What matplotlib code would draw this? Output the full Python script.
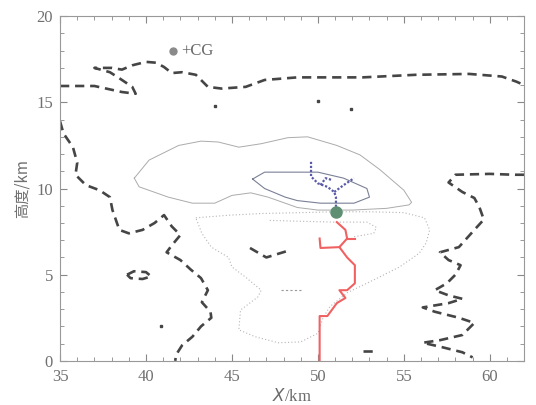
import matplotlib
matplotlib.use("Agg")
import matplotlib.pyplot as plt
from matplotlib.ticker import MultipleLocator

# 粗虚线(温度/云边界等值线)
top_dash_x = [35, 37, 38.6, 39.4, 39.2, 38.45, 37.9, 37.0, 38.0, 38.6, 39.2, 40.0, 40.6, 41.05, 41.5,
              42.1, 42.9, 43.6, 44.4, 45.8, 46.9, 48.8, 52.6, 55.7, 58.8, 60.7, 61.55, 62]
top_dash_y = [15.95, 15.95, 15.6, 15.5, 15.9, 16.4, 16.75, 17.0, 17.0, 16.9, 17.15, 17.35, 17.3, 17.05, 16.7,
              16.75, 16.6, 15.9, 15.8, 15.9, 16.3, 16.45, 16.45, 16.6, 16.65, 16.5, 16.2, 16.0]

left_dash_x = [35, 35.2, 35.75, 36.0, 35.9, 36.5, 37.3, 37.9, 38.0, 38.05, 38.45, 39.0, 39.8, 40.5, 41.05,
               41.5, 42.0, 41.5, 41.2, 42.0, 42.6, 43.2, 43.6, 43.25, 43.75, 43.8, 43.2, 42.7, 42.1, 41.75, 41.7]
left_dash_y = [13.9, 13.2, 12.4, 11.5, 10.8, 10.2, 9.9, 9.5, 9.0, 8.75, 7.6, 7.4, 7.6, 8.0, 8.46,
               7.8, 7.3, 6.7, 6.3, 5.85, 5.3, 4.8, 4.1, 3.4, 2.85, 2.5, 2.0, 1.4, 0.9, 0.35, 0]

right_dash_x = [62, 61.4, 60.0, 58.0, 57.6, 58.4, 59.1, 59.4, 59.65, 59.1, 58.2, 57.1, 57.6, 58.3, 58.0,
                57.5, 56.8, 57.6, 58.4, 57.6, 56.1, 56.8, 58.2, 59.1, 58.4, 57.1, 56.1, 57.2, 58.4, 59.0]
right_dash_y = [10.8, 10.8, 10.85, 10.8, 10.35, 9.8, 9.45, 8.9, 8.2, 7.6, 6.6, 6.3, 5.85, 5.55, 5.0,
                4.5, 4.1, 3.8, 3.6, 3.35, 3.1, 2.85, 2.5, 2.2, 1.5, 1.2, 1.05, 0.8, 0.5, 0.2]

mid_dash_x = [46.05, 47.0, 48.3]
mid_dash_y = [6.55, 6.0, 6.4]
loop_dash_x = [38.9, 39.3, 40.0, 40.3, 39.8, 39.1, 38.9]
loop_dash_y = [5.0, 5.2, 5.15, 4.9, 4.75, 4.8, 5.0]
low_dash_x = [52.6, 53.2]
low_dash_y = [0.58, 0.58]
spot_x = [44.0, 50.0, 51.9, 40.9]
spot_y = [14.8, 15.1, 14.6, 2.0]

# 细实线等值线
outer_x = [39.32, 40.18, 41.9, 43.2, 44.2, 45.4, 46.7, 48.25, 49.4, 51.1, 52.45, 53.6, 55.0, 55.45, 55.3,
           54.0, 52.0, 50.0, 48.8, 47.1, 46.1, 45.0, 44.0, 42.7, 41.3, 39.6, 39.32]
outer_y = [10.6, 11.65, 12.5, 12.75, 12.7, 12.4, 12.6, 12.95, 13.0, 12.5, 11.95, 11.1, 9.9, 9.2, 9.05,
           8.85, 8.75, 8.75, 8.9, 9.5, 9.75, 9.6, 9.15, 9.15, 9.5, 10.1, 10.6]
inner_x = [46.2, 46.9, 48.8, 50.0, 51.5, 52.85, 53.0, 52.1, 50.15, 48.8, 48.1, 46.9, 46.2]
inner_y = [10.55, 10.95, 10.95, 10.95, 10.6, 10.0, 9.5, 9.15, 9.15, 9.3, 9.5, 10.0, 10.55]

# 点线等值线
dot1_x = [42.9, 44.8, 46.7, 49.0, 51.0, 53.0, 55.0, 56.2, 56.5, 56.3, 55.9, 54.75, 53.25, 51.7, 50.7,
          50.3, 50.0, 49.0, 47.7, 46.35, 45.4, 45.5, 46.5, 46.7, 45.8, 45.0, 44.8, 43.8, 43.25, 42.9]
dot1_y = [8.3, 8.45, 8.55, 8.6, 8.65, 8.65, 8.6, 8.3, 7.6, 6.85, 6.25, 5.45, 4.7, 3.95, 3.15,
          2.5, 1.6, 1.1, 1.05, 1.4, 1.8, 2.95, 3.7, 4.1, 4.85, 5.45, 6.0, 6.6, 7.4, 8.3]
dot2_x = [47.2, 49.0, 51.0, 52.85, 53.4, 53.25, 52.1]
dot2_y = [8.15, 8.1, 8.05, 8.05, 7.75, 7.4, 7.2]
dot3_x = [47.85, 49.0]
dot3_y = [4.1, 4.1]

# 闪电通道
neg_x = [49.6, 49.6, 50.0, 50.55, 50.95, 51.05, 51.05]
neg_y = [11.55, 10.7, 10.3, 10.1, 9.8, 9.5, 8.65]
neg_b1_x = [50.95, 51.5, 52.1]
neg_b1_y = [9.8, 10.2, 10.6]
neg_b2_x = [50.15, 50.45, 50.8]
neg_b2_y = [10.2, 10.6, 10.5]
pos_x = [51.1, 51.6, 51.7, 51.25, 51.7, 52.15, 52.15, 51.7, 51.25, 51.6, 51.1, 50.55, 50.1, 50.1]
pos_y = [8.05, 7.6, 7.1, 6.6, 6.0, 5.55, 4.5, 4.1, 4.1, 3.65, 3.35, 2.6, 2.6, 0]
pos_b1_x = [51.7, 52.15]
pos_b1_y = [7.1, 7.1]
pos_b2_x = [51.25, 50.15, 50.1]
pos_b2_y = [6.6, 6.55, 7.1]
cg_x, cg_y = 51.05, 8.65
legend_x, legend_y = 41.6, 18.0

fig = plt.figure(figsize=(5.36, 4.05), dpi=100)
ax = fig.add_axes([0.112, 0.109, 0.866, 0.851])

dk = "#454545"
dash = (0, (3.5, 2.2))
for xs, ys in [(top_dash_x, top_dash_y), (left_dash_x, left_dash_y), (right_dash_x, right_dash_y),
               (mid_dash_x, mid_dash_y), (loop_dash_x, loop_dash_y), (low_dash_x, low_dash_y)]:
    ax.plot(xs, ys, color=dk, lw=1.9, ls=dash)
ax.plot(spot_x, spot_y, "s", color=dk, ms=2)

ax.plot(outer_x, outer_y, color="#ababab", lw=0.7)
ax.plot(inner_x, inner_y, color="#7a8096", lw=0.8)
ax.plot(dot1_x, dot1_y, color="#b5b5b5", lw=0.8, ls=(0, (1, 2)))
ax.plot(dot2_x, dot2_y, color="#b5b5b5", lw=0.8, ls=(0, (1, 2)))
ax.plot(dot3_x, dot3_y, color="#999999", lw=0.8, ls=(0, (2, 2)))

for xs, ys in [(neg_x, neg_y), (neg_b1_x, neg_b1_y), (neg_b2_x, neg_b2_y)]:
    ax.plot(xs, ys, color="#5a5aa8", lw=1.6, ls=(0, (1, 0.8)))
for xs, ys in [(pos_x, pos_y), (pos_b1_x, pos_b1_y), (pos_b2_x, pos_b2_y)]:
    ax.plot(xs, ys, color="#f06262", lw=1.5)
ax.plot([cg_x], [cg_y], "o", color="#5f8f72", ms=8, zorder=5)

ax.plot([legend_x], [legend_y], "o", color="#8a8a8a", ms=5)
ax.text(legend_x + 0.45, legend_y, "+CG", fontsize=12, family="Liberation Serif",
        color="#6a6a6a", va="center")

ax.set_xlim(35, 62)
ax.set_ylim(0, 20)
ax.xaxis.set_major_locator(MultipleLocator(5))
ax.xaxis.set_minor_locator(MultipleLocator(1))
ax.yaxis.set_major_locator(MultipleLocator(5))
ax.yaxis.set_minor_locator(MultipleLocator(1))
ax.tick_params(which="both", direction="in", top=True, right=True, colors="#888888",
               labelcolor="#707070", labelsize=12)
ax.tick_params(which="major", length=5)
ax.tick_params(which="minor", length=3)
ax.tick_params(axis="x", pad=6)
ax.tick_params(axis="y", pad=5)
for lab in ax.get_xticklabels() + ax.get_yticklabels():
    lab.set_family("Liberation Serif")
for sp in ax.spines.values():
    sp.set_color("#999999")
    sp.set_linewidth(0.8)

ax.set_xlabel("$X$/km", fontsize=12, color="#6a6a6a", family="Liberation Serif", labelpad=2)
ax.set_ylabel("高度/km", fontsize=11, color="#707070", family=["Noto Sans CJK SC", "DejaVu Sans"], labelpad=4)

fig.savefig("out.png", dpi=100)
